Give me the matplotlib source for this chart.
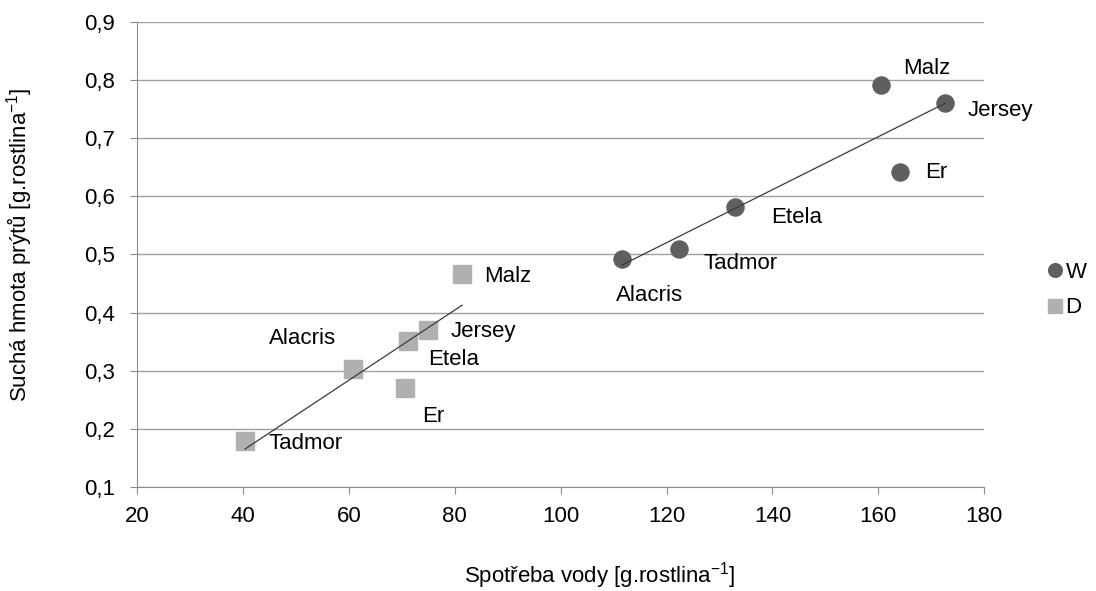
import numpy as np
import matplotlib
matplotlib.use("Agg")
import matplotlib.pyplot as plt
from matplotlib.ticker import FuncFormatter

plt.rcParams['font.family'] = ['Liberation Sans', 'DejaVu Sans']
plt.rcParams['mathtext.fontset'] = 'custom'
plt.rcParams['mathtext.rm'] = 'Liberation Sans'
plt.rcParams['mathtext.it'] = 'Liberation Sans'

cultivars_w = ["Malz", "Jersey", "Er", "Etela", "Tadmor", "Alacris"]
water_w = [160.5, 172.6, 164.1, 133.0, 122.4, 111.6]
dry_w = [0.792, 0.761, 0.642, 0.582, 0.509, 0.492]

cultivars_d = ["Malz", "Jersey", "Etela", "Alacris", "Er", "Tadmor"]
water_d = [81.4, 75.0, 71.2, 60.8, 70.6, 40.4]
dry_d = [0.466, 0.370, 0.351, 0.303, 0.270, 0.179]

# label offsets in pixels (dx, dy upward)
off_w = [(22, 16), (23, -8), (25, -1), (36, -11), (24, -14), (-6, -36)]
off_d = [(22, -2), (22, -1), (20, -18), (-84, 30), (17, -28), (23, -2)]

FS = 16

fig = plt.figure(figsize=(10.96, 5.91), dpi=100)
ax = fig.add_axes([0.125, 0.176, 0.773, 0.787])

ax.set_xlim(20, 180)
ax.set_ylim(0.1, 0.9)
ax.set_xticks(np.arange(20, 181, 20))
ax.set_yticks(np.arange(0.1, 0.91, 0.1))
ax.yaxis.set_major_formatter(FuncFormatter(lambda v, p: f"{v:.1f}".replace('.', ',')))
ax.grid(axis='y', color='#a0a0a0', lw=1)
ax.set_axisbelow(True)
for s in ['top', 'right']:
    ax.spines[s].set_visible(False)
for s in ['left', 'bottom']:
    ax.spines[s].set_color('#8c8c8c')
ax.tick_params(axis='both', colors='#8c8c8c', labelcolor='black', labelsize=FS,
               length=5, direction='out')
ax.tick_params(axis='y', pad=11)
ax.tick_params(axis='x', pad=9)

cw = '#5f5f5f'
cd = '#b0b0b0'
ax.plot(water_w, dry_w, 'o', color=cw, ms=12.3, ls='none', label='W', zorder=3)
ax.plot(water_d, dry_d, 's', color=cd, ms=12.5, ls='none', label='D', zorder=3)

for xs, ys in [(water_w, dry_w), (water_d, dry_d)]:
    k, q = np.polyfit(xs, ys, 1)
    xx = np.array([min(xs), max(xs)])
    ax.plot(xx, k * xx + q, color='#3a3a3a', lw=0.9, zorder=4)

for names, xs, ys, offs in [(cultivars_w, water_w, dry_w, off_w), (cultivars_d, water_d, dry_d, off_d)]:
    for n, x, y, (dx, dy) in zip(names, xs, ys, offs):
        ax.annotate(n, (x, y), xytext=(dx, dy), textcoords='offset pixels',
                    ha='left', va='center', fontsize=FS, zorder=5)

ax.set_xlabel("Spotřeba vody [g.rostlina$^{-1}$]", fontsize=FS)
ax.set_ylabel("Suchá hmota prýtů [g.rostlina$^{-1}$]", fontsize=FS)
ax.xaxis.set_label_coords(0.546, -0.158)
ax.yaxis.set_label_coords(-0.12, 0.52)

leg = fig.legend(loc='center left', bbox_to_anchor=(0.952, 0.509), frameon=False,
                 fontsize=FS, handletextpad=0.0, labelspacing=0.65, handlelength=1.0,
                 markerscale=0.8, borderaxespad=0, borderpad=0)

fig.savefig("out.png", dpi=100)
